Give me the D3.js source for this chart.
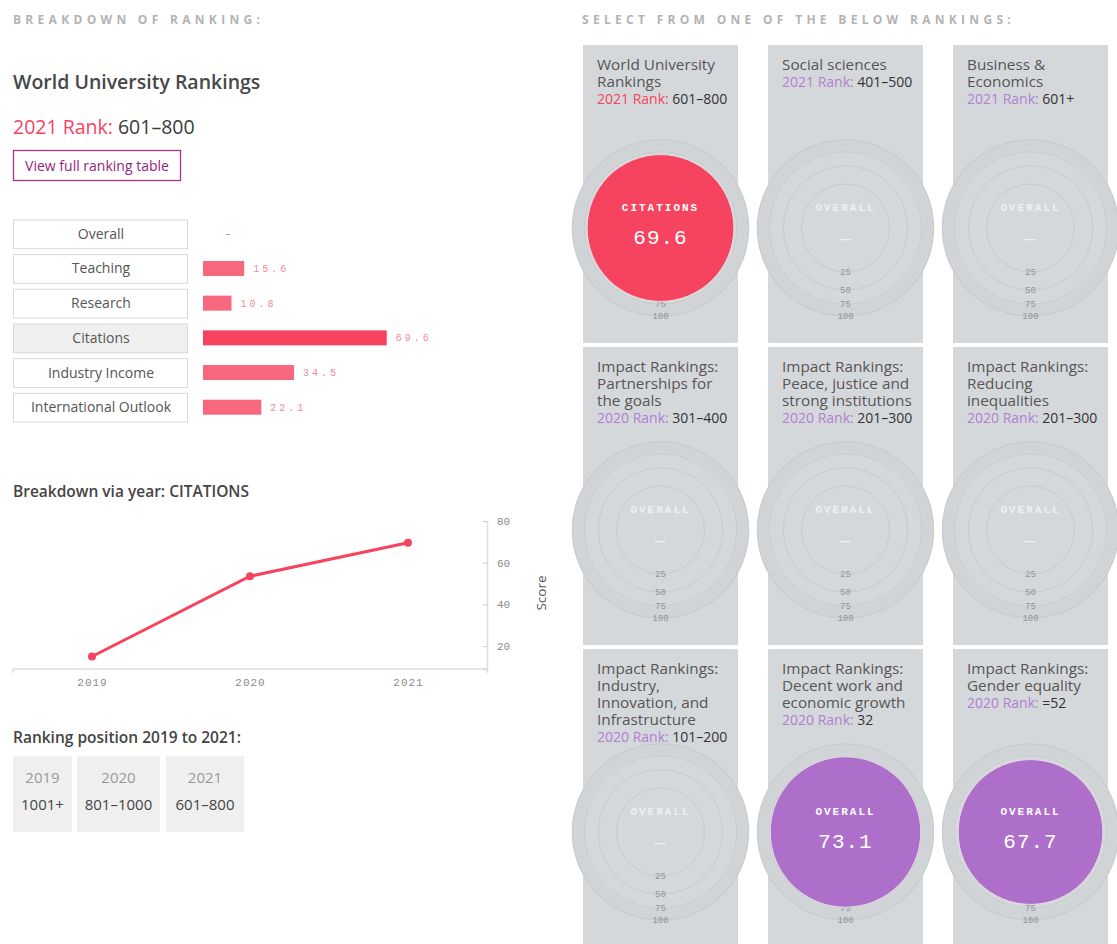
<!DOCTYPE html>
<html><head><meta charset="utf-8">
<script src="https://cdn.jsdelivr.net/npm/d3@7"></script>
<style>
body{margin:0;background:#fff;}
svg{display:block;font-family:"Open Sans",sans-serif;}
</style></head>
<body><svg id="c" width="1117" height="944"></svg>
<script>
// ---- data ----
const categories = ["Overall","Teaching","Research","Citations","Industry Income","International Outlook"];
const categoryScores = [null,15.6,10.8,69.6,34.5,22.1];
const selectedCategory = "Citations";
const years = [2019,2020,2021];
const citationScores = [15.0,53.5,69.6];
const yTickValues = [20,40,60,80];
const rankPositions = ["1001+","801–1000","601–800"];
const ringTicks = [25,50,75,100];
const rankingTitles = [
  ["World University","Rankings"],["Social sciences"],["Business &","Economics"],
  ["Impact Rankings:","Partnerships for","the goals"],["Impact Rankings:","Peace, justice and","strong institutions"],["Impact Rankings:","Reducing","inequalities"],
  ["Impact Rankings:","Industry,","Innovation, and","Infrastructure"],["Impact Rankings:","Decent work and","economic growth"],["Impact Rankings:","Gender equality"]
];
const rankingYears = [2021,2021,2021,2020,2020,2020,2020,2020,2020];
const rankingRanks = ["601–800","401–500","601+","301–400","201–300","201–300","101–200","32","=52"];
const rankingMetrics = ["CITATIONS","OVERALL","OVERALL","OVERALL","OVERALL","OVERALL","OVERALL","OVERALL","OVERALL"];
const rankingValues = [69.6,null,null,null,null,null,null,73.1,67.7];

const RED="#f6435f", PINK="#f7687e", PURPLE="#ad6fc9", MONO="'Liberation Mono','Courier New',monospace";
const svg=d3.select("#c");

// ---- left header ----
svg.append("text").attr("x",13).attr("y",24).attr("font-size",12).attr("font-weight",700)
  .attr("letter-spacing",4.3).attr("fill","#b3b3b3").text("BREAKDOWN OF RANKING:");
svg.append("text").attr("x",13).attr("y",89).attr("font-size",19.5).attr("font-weight",600).attr("fill","#474747").text("World University Rankings");
const rk=svg.append("text").attr("x",13).attr("y",134).attr("font-size",19.5);
rk.append("tspan").attr("fill",RED).text("2021 Rank: ");
rk.append("tspan").attr("fill","#3a3a3a").text("601–800");
svg.append("rect").attr("x",13.5).attr("y",150.5).attr("width",167).attr("height",30).attr("fill","#fff").attr("stroke","#a8338f").attr("stroke-width",1.3);
svg.append("text").attr("x",97).attr("y",170.5).attr("text-anchor","middle").attr("font-size",14).attr("fill","#96257a").text("View full ranking table");

// ---- bar breakdown ----
const yBand=d3.scaleBand().domain(categories).range([218,423]).paddingInner(0.17).paddingOuter(0.04);
const xBar=d3.scaleLinear().domain([0,100]).range([203,467]);
const rows=svg.append("g").selectAll("g").data(categories).join("g");
rows.append("rect").attr("x",13.5).attr("y",d=>yBand(d)+0.5).attr("width",174).attr("height",yBand.bandwidth())
  .attr("fill",d=>d===selectedCategory?"#efefef":"#fff").attr("stroke","#d9d9d9");
rows.append("text").attr("x",101).attr("y",d=>yBand(d)+yBand.bandwidth()/2+5).attr("text-anchor","middle")
  .attr("font-size",14).attr("fill","#555").text(d=>d);
categories.forEach((c,i)=>{
  const v=categoryScores[i], cy=yBand(c)+yBand.bandwidth()/2;
  if(v==null){
    svg.append("text").attr("x",228).attr("y",cy+3).attr("text-anchor","middle").attr("font-family",MONO).attr("font-size",10).attr("fill",PINK).text("–");
    return;
  }
  svg.append("rect").attr("x",xBar(0)).attr("y",cy-7.5).attr("width",xBar(v)-xBar(0)).attr("height",15)
    .attr("fill",c===selectedCategory?RED:PINK);
  svg.append("text").attr("x",xBar(v)+9).attr("y",cy+3.5).attr("font-family",MONO).attr("font-size",10)
    .attr("letter-spacing",3).attr("fill","#f08a9b").text(v.toFixed(1));
});

// ---- line chart ----
svg.append("text").attr("x",13).attr("y",497).attr("font-size",15.5).attr("font-weight",600).attr("fill","#444").text("Breakdown via year: CITATIONS");
const xL=d3.scaleLinear().domain([2018.5,2021.5]).range([13,487]);
const yL=d3.scaleLinear().domain([9,80]).range([669,521]);
const xAx=svg.append("g").attr("transform","translate(0,669)")
  .call(d3.axisBottom(xL).tickValues(years).tickFormat(d3.format("d")).tickSize(0).tickPadding(9));
xAx.select(".domain").attr("stroke","#ddd").attr("stroke-width",1.5).attr("d","M13,4V0H487V4");
xAx.selectAll("text").attr("font-family",MONO).attr("font-size",11).attr("fill","#8a8a8a").attr("letter-spacing",1);
const yAx=svg.append("g").attr("transform","translate(487,0)")
  .call(d3.axisRight(yL).tickValues(yTickValues).tickSize(-4).tickPadding(10));
yAx.select(".domain").attr("stroke","#ddd").attr("stroke-width",1.5);
yAx.selectAll(".tick line").attr("stroke","#ccc");
yAx.selectAll("text").attr("font-family",MONO).attr("font-size",11).attr("fill","#8a8a8a");
svg.append("text").attr("transform","translate(546,593) rotate(-90)").attr("text-anchor","middle")
  .attr("font-size",13.5).attr("fill","#555").text("Score");
const pts=years.map((y,i)=>[y,citationScores[i]]);
svg.append("path").datum(pts).attr("fill","none").attr("stroke",RED).attr("stroke-width",3)
  .attr("d",d3.line().x(d=>xL(d[0])).y(d=>yL(d[1])));
svg.append("g").selectAll("circle").data(pts).join("circle").attr("cx",d=>xL(d[0])).attr("cy",d=>yL(d[1])).attr("r",4).attr("fill",RED);

// ---- ranking positions ----
svg.append("text").attr("x",13).attr("y",743).attr("font-size",15.5).attr("font-weight",600).attr("fill","#444").text("Ranking position 2019 to 2021:");
const boxX=[13,77,166], boxW=[59,83,78];
years.forEach((y,i)=>{
  svg.append("rect").attr("x",boxX[i]).attr("y",756).attr("width",boxW[i]).attr("height",76).attr("fill","#efefef");
  svg.append("text").attr("x",boxX[i]+boxW[i]/2).attr("y",783).attr("text-anchor","middle").attr("font-size",15).attr("fill","#999").text(y);
  svg.append("text").attr("x",boxX[i]+boxW[i]/2).attr("y",810).attr("text-anchor","middle").attr("font-size",15).attr("fill","#444").text(rankPositions[i]);
});

// ---- right panel ----
svg.append("text").attr("x",582).attr("y",24).attr("font-size",12).attr("font-weight",700)
  .attr("letter-spacing",4.3).attr("fill","#b3b3b3").text("SELECT FROM ONE OF THE BELOW RANKINGS:");
const rScale=d3.scaleSqrt().domain([0,100]).range([0,88]);
const cellW=155, colX=[583,768,953], rowY=[45,347,649], cellH=298;
const cells=rankingTitles.map((t,i)=>({i,col:i%3,row:Math.floor(i/3)}));
cells.forEach(c=>{
  svg.append("rect").attr("x",colX[c.col]).attr("y",rowY[c.row]).attr("width",cellW).attr("height",cellH).attr("fill","#d5d8db");
});
cells.forEach(c=>{
  const cx=colX[c.col]+cellW/2, cy=rowY[c.row]+183;
  const g=svg.append("g");
  g.append("circle").attr("cx",cx).attr("cy",cy).attr("r",rScale(100)).attr("fill","#d5d8db").attr("stroke","#c8cbcf").attr("stroke-width",1.5);
  g.append("circle").attr("cx",cx).attr("cy",cy).attr("r",(rScale(100)+rScale(75))/2).attr("fill","none").attr("stroke","#d1d4d7").attr("stroke-width",rScale(100)-rScale(75)-3);
  ringTicks.slice(0,3).forEach(t=>{
    g.append("circle").attr("cx",cx).attr("cy",cy).attr("r",rScale(t)).attr("fill","none").attr("stroke","#c7cacd").attr("stroke-width",1);
  });
  ringTicks.forEach(t=>{
    g.append("text").attr("x",cx).attr("y",cy+rScale(t)+3).attr("text-anchor","middle").attr("font-family",MONO)
      .attr("font-size",9).attr("fill","#8f9296").text(t);
  });
  const v=rankingValues[c.i];
  const col=c.i===0?RED:PURPLE;
  if(v!=null){
    g.append("circle").attr("cx",cx).attr("cy",cy).attr("r",rScale(v)).attr("fill",col).attr("stroke","#e4dde6").attr("stroke-width",1);
  }
  g.append("text").attr("x",cx).attr("y",cy-17).attr("text-anchor","middle").attr("font-family",MONO).attr("font-weight",700)
    .attr("font-size",11).attr("letter-spacing",2).attr("fill",v!=null?"#fff":"#eef0f2").text(rankingMetrics[c.i]);
  g.append("text").attr("x",cx).attr("y",cy+16).attr("text-anchor","middle").attr("font-family",MONO)
    .attr("font-size",v!=null?21:18).attr("letter-spacing",1).attr("fill",v!=null?"#fff":"#eef0f2").text(v!=null?v.toFixed(1):"—");
  const tx=colX[c.col]+14, ty=rowY[c.row]+25;
  const lines=rankingTitles[c.i];
  lines.forEach((l,k)=>{
    g.append("text").attr("x",tx).attr("y",ty+k*17).attr("font-size",15.3).attr("fill","#555").text(l);
  });
  const rt=g.append("text").attr("x",tx).attr("y",ty+lines.length*17).attr("font-size",14);
  rt.append("tspan").attr("fill",c.i===0?RED:"#b07fd3").text(rankingYears[c.i]+" Rank: ");
  rt.append("tspan").attr("fill","#333").text(rankingRanks[c.i]);
});
</script></body></html>
